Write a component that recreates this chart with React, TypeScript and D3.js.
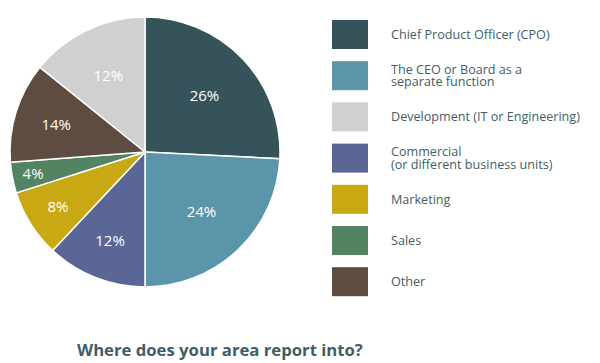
import React from "react";
import * as d3 from "d3";

const categories = [
  "Chief Product Officer (CPO)",
  "The CEO or Board as a separate function",
  "Commercial (or different business units)",
  "Marketing",
  "Sales",
  "Other",
  "Development (IT or Engineering)",
];
const shares = [25.8, 24.2, 12.0, 8.1, 3.7, 12.0, 14.2];
// printed labels
const valueLabels = ["26%", "24%", "12%", "8%", "4%", "14%", "12%"];

const legendOrder = [
  ["Chief Product Officer (CPO)"],
  ["The CEO or Board as a", "separate function"],
  ["Development (IT or Engineering)"],
  ["Commercial", "(or different business units)"],
  ["Marketing"],
  ["Sales"],
  ["Other"],
];
const legendKeys = [0, 1, 6, 2, 3, 4, 5];

const title = "Where does your area report into?";

const colors = ["#355358", "#5b95aa", "#5a6796", "#c8a914", "#528462", "#5e4c40", "#d0d0d0"];
const labelRadii = [82, 82, 95, 103, 114, 93, 85];

export default function App() {
  const cx = 145, cy = 152, r = 135;
  const pie = d3.pie<number>().sort(null).value((d) => d);
  const arcs = pie(shares);
  const arcGen = d3.arc<d3.PieArcDatum<number>>().innerRadius(0).outerRadius(r);
  const textColor = "#435d64";
  const font = "'Open Sans', 'Noto Sans', sans-serif";
  return (
    <div style={{ position: "fixed", left: 0, top: 0 }}>
      <svg width={600} height={363} style={{ display: "block", background: "#fff" }}>
        <g transform={`translate(${cx},${cy})`}>
          {arcs.map((a, i) => (
            <path key={i} d={arcGen(a) || ""} fill={colors[i]} stroke="#fff" strokeWidth={1.5} />
          ))}
          {arcs.map((a, i) => {
            const mid = (a.startAngle + a.endAngle) / 2;
            const lr = labelRadii[i];
            const x = Math.sin(mid) * lr;
            const y = -Math.cos(mid) * lr;
            return (
              <text key={i} x={x} y={y} dy="0.36em" textAnchor="middle" fill="#fff"
                fontFamily={font} fontSize={15}>
                {valueLabels[i]}
              </text>
            );
          })}
        </g>
        {legendOrder.map((lines, j) => {
          const y0 = 20 + j * 41.2;
          const k = legendKeys[j];
          return (
            <g key={j}>
              <rect x={332} y={y0} width={36} height={29} fill={colors[k]} />
              {lines.map((ln, li) => (
                <text key={li} x={391} y={y0 + 14.5 + (lines.length === 2 ? (li - 0.5) * 12.5 : 0)}
                  dy="0.35em" fill={textColor} fontFamily={font} fontSize={12.6}>
                  {ln}
                </text>
              ))}
            </g>
          );
        })}
        <text x={77} y={350} dy="0.35em" fill="#3f5d66" fontFamily={font} fontSize={16.7} fontWeight="bold">
          {title}
        </text>
      </svg>
    </div>
  );
}
